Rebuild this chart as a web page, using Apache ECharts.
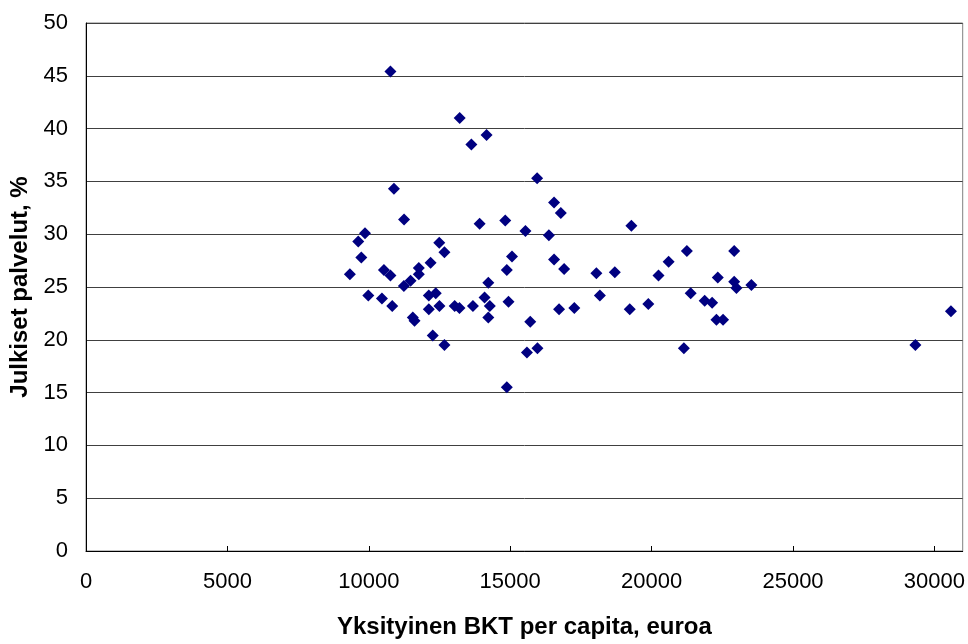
<!DOCTYPE html>
<html>
<head>
    <meta charset="utf-8">
    <title>Julkiset palvelut vs BKT</title>
    <script src="https://cdn.jsdelivr.net/npm/echarts@6/dist/echarts.min.js"></script>
    <style>
        body { margin: 0; background: #fff; }
        #main { width: 968px; height: 644px; }
    </style>
</head>
<body>
    <div id="main"></div>
    <script type="text/javascript">
        // data: BKT per capita (euroa) and share (%)
        var bkt = [10765, 13214, 13626, 14165, 15951, 10888, 16550, 16790, 11247, 13918,
            14824, 19285, 9866, 9627, 15539, 16367, 9736, 9331, 12491, 12674,
            15063, 12185, 11769, 11769, 10536, 10765, 14880, 16550, 16906, 18048,
            18700, 14225, 11476, 11240, 9982, 10465, 10828, 12121, 12368, 12121,
            12498, 11557, 11617, 13037, 13206, 13682, 14094, 14278, 14225, 14940,
            15708, 16727, 17266, 18171, 19228, 12262, 12674, 15592, 15962, 14880,
            21247, 22921, 20602, 20243, 22340, 22921, 22999, 23527, 21381, 19884,
            21876, 22140, 22292, 22527, 21142, 29327, 30585];
        var palvelut = [45.4, 41.0, 38.5, 39.4, 35.3, 34.3, 33.0, 32.0, 31.4, 31.0,
            31.3, 30.8, 30.1, 29.3, 30.3, 29.9, 27.8, 26.2, 29.2, 28.3,
            27.9, 27.3, 26.8, 26.2, 26.6, 26.1, 26.6, 27.6, 26.7, 26.3,
            26.4, 25.4, 25.6, 25.1, 24.2, 23.9, 23.2, 24.2, 24.4, 22.9,
            23.2, 22.1, 21.8, 23.2, 23.0, 23.2, 24.0, 23.2, 22.1, 23.6,
            21.7, 22.9, 23.0, 24.2, 22.9, 20.4, 19.5, 18.8, 19.2, 15.5,
            28.4, 28.4, 27.4, 26.1, 25.9, 25.5, 24.9, 25.2, 24.4, 23.4,
            23.7, 23.5, 21.9, 21.9, 19.2, 19.5, 22.7];

        var points = [];
        for (var i = 0; i < bkt.length; i++) {
            points.push([bkt[i], palvelut[i]]);
        }

        var myChart = echarts.init(document.getElementById('main'));

        var option = {
            backgroundColor: '#fff',
            animation: false,
            textStyle: { fontFamily: 'Arial, "Liberation Sans", sans-serif' },
            grid: {
                left: 86, right: 2, top: 23, bottom: 91,
                show: true,
                borderColor: '#808080',
                borderWidth: 1
            },
            xAxis: {
                type: 'value',
                min: 0,
                max: 31000,
                interval: 5000,
                name: 'Yksityinen BKT per capita, euroa',
                nameLocation: 'middle',
                nameGap: 64,
                nameTextStyle: { fontSize: 24, fontWeight: 'bold', color: '#000' },
                axisLine: { lineStyle: { color: '#000', width: 1 } },
                axisTick: { show: true, inside: true, length: 5, lineStyle: { color: '#000' } },
                axisLabel: {
                    fontSize: 22, color: '#000', margin: 20, showMaxLabel: false,
                    formatter: function (v) { return String(v); }
                },
                splitLine: { show: false }
            },
            yAxis: {
                type: 'value',
                min: 0,
                max: 50,
                interval: 5,
                name: 'Julkiset palvelut, %',
                nameLocation: 'middle',
                nameGap: 46,
                nameTextStyle: { fontSize: 24, fontWeight: 'bold', color: '#000' },
                axisLine: { show: true, lineStyle: { color: '#000', width: 1 } },
                axisTick: { show: false },
                axisLabel: { fontSize: 22, color: '#000', margin: 18 },
                splitLine: { show: true, lineStyle: { color: '#404040', width: 1 } }
            },
            series: [{
                type: 'scatter',
                data: points,
                symbol: 'diamond',
                symbolSize: 12,
                itemStyle: { color: '#000080', opacity: 1 }
            }]
        };
        myChart.setOption(option);
    </script>
</body>
</html>
